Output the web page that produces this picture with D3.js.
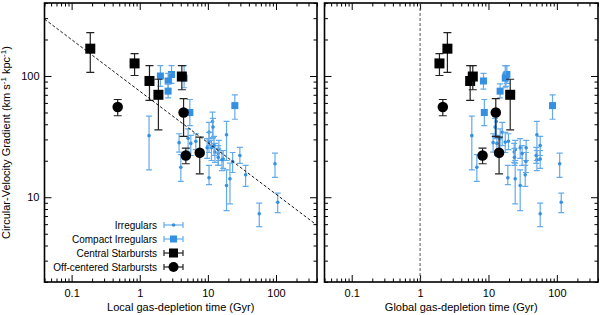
<!DOCTYPE html>
<html>
<head>
<meta charset="utf-8">
<script src="https://cdn.jsdelivr.net/npm/d3@7"></script>
<style>
body { margin: 0; background: #fff; }
svg { display: block; font-family: "Liberation Sans", Arial, Helvetica, sans-serif; }
</style>
</head>
<body>
<div id="chart"></div>
<script>
// Irregulars: gradient (km/s/kpc), error range, local and global depletion times (Gyr)
const irrGrad   = [32.2, 17.7, 14.5, 12.5, 14.2, 15.3, 18.9, 7.3, 9.09, 28.2, 30.7, 27.8, 29.0, 42.2, 32.8, 34.4, 28.5, 25.6, 25.6, 23.6, 22.9, 20.7, 24.7, 20.4, 19.7, 21.4, 22.1, 37.9, 26.7];
const irrHi     = [46.7, 22.5, 18.3, 16.8, 19.1, 18.3, 23.1, 8.96, 10.8, 33.4, 36.7, 32.4, 33.4, 50.4, 42.2, 41.4, 34.3, 30.5, 29.4, 27.8, 26.7, 24.3, 29.4, 24.3, 23.4, 25.3, 25.8, 44.7, 31.8];
const irrLo     = [16.8, 13.5, 12.7, 7.76, 8.82, 12.3, 14.6, 5.72, 7.47, 23.6, 23.6, 22.1, 24.7, 30.4, 20.1, 26.7, 23.4, 20.9, 20.1, 19.4, 18.3, 17.3, 20.1, 16.6, 16.0, 18.3, 19.0, 31.1, 22.1];
const irrLocal  = [1.37, 4.01, 10.4, 18.8, 21.1, 35.8, 96.7, 56.8, 106, 3.78, 5.13, 5.62, 6.66, 11.7, 18.8, 10.4, 10.4, 9.77, 11.3, 12.7, 14.2, 16.8, 14.5, 16.1, 23.1, 14.2, 29.5, 11.9, 12.3];
const irrGlobal = [5.71, 6.76, 19.2, 29.1, 24.6, 34.5, 110, 57.1, 116, 11.7, 14.8, 13.3, 19.6, 13.0, 51.1, 15.9, 17.6, 29.1, 35.6, 23.8, 31.1, 57.1, 24.6, 51.1, 35.3, 24.0, 49.9, 12.5, 57.1];

// Compact irregulars
const ciGrad   = [100, 103, 91, 75, 96, 50, 57];
const ciHi     = [122, 122, 105, 86, 122, 64, 70];
const ciLo     = [82, 87, 78, 66, 80, 39, 44];
const ciLocal  = [2.01, 2.93, 2.61, 2.61, 4.48, 5.44, 24.9];
const ciGlobal = [18.0, 18.6, 8.45, 14.8, 17.6, 8.7, 86.5];

// Central starbursts
const csGrad   = [168, 127, 91, 70, 99];
const csHi     = [228, 153, 122, 94, 122];
const csLo     = [107, 101, 63, 36, 77];
const csLocal  = [0.188, 0.84, 1.39, 1.88, 4.15];
const csGlobal = [2.51, 1.92, 5.4, 20.8, 5.9];

// Off-centered starbursts
const ocGrad   = [55.5, 50, 22.1, 23.3];
const ocHi     = [64, 65, 25.4, 31.3];
const ocLo     = [47, 31.8, 18.9, 15.6];
const ocLocal  = [0.475, 4.4, 4.75, 7.6];
const ocGlobal = [2.15, 12.8, 8.2, 14.3];

// dashed power-law fit in the left panel
const fitNorm = 75;
const fitSlope = -0.425;

const xDomain = [0.04, 400];
const yDomain = [2, 400];

const width = 600, height = 315;
const plotTop = 3, plotBottom = 282;

const blue = "#3490e2";
const blueErr = "#64abeb";

function zip(grad, hi, lo, loc, glob) {
  return grad.map((g, i) => ({ grad: g, hi: hi[i], lo: lo[i], local: loc[i], global: glob[i] }));
}

const groups = [
  { name: "Irregulars", data: zip(irrGrad, irrHi, irrLo, irrLocal, irrGlobal), shape: "circle", size: 3.6, legendSize: 3.6, color: blue, err: blueErr, cap: 6 },
  { name: "Compact Irregulars", data: zip(ciGrad, ciHi, ciLo, ciLocal, ciGlobal), shape: "square", size: 7, legendSize: 7, color: blue, err: blueErr, cap: 6 },
  { name: "Central Starbursts", data: zip(csGrad, csHi, csLo, csLocal, csGlobal), shape: "square", size: 10, legendSize: 9, color: "#000", err: "#222", cap: 8 },
  { name: "Off-centered Starbursts", data: zip(ocGrad, ocHi, ocLo, ocLocal, ocGlobal), shape: "circle", size: 10.5, legendSize: 10, color: "#000", err: "#222", cap: 8 }
];

const svg = d3.select("#chart").append("svg")
  .attr("width", width)
  .attr("height", height);

const y = d3.scaleLog().domain(yDomain).range([plotBottom, plotTop]);

const isMajor = t => Math.abs(Math.log10(t) - Math.round(Math.log10(t))) < 1e-9;

function drawMarker(sel, shape, size, color) {
  if (shape === "square") {
    sel.append("rect")
      .attr("x", -size / 2).attr("y", -size / 2)
      .attr("width", size).attr("height", size)
      .attr("fill", color);
  } else {
    sel.append("circle").attr("r", size / 2).attr("fill", color);
  }
}

function styleAxis(g) {
  g.select(".domain").remove();
  g.selectAll(".tick line").attr("stroke", "#000").attr("stroke-width", 1);
  g.selectAll("text").attr("fill", "#000").style("font-size", "11px")
    .style("font-family", "'Liberation Sans', Arial, Helvetica, sans-serif");
}

function drawPanel(x0, x1, key, title, showYLabels, extra) {
  const x = d3.scaleLog().domain(xDomain).range([x0, x1]);
  const xMajor = x.ticks().filter(isMajor);
  const xMinor = x.ticks().filter(t => !isMajor(t));
  const yMajor = y.ticks().filter(isMajor);
  const yMinor = y.ticks().filter(t => !isMajor(t));

  const panel = svg.append("g");
  const clipId = "clip-" + key;
  svg.append("clipPath").attr("id", clipId)
    .append("rect").attr("x", x0).attr("y", plotTop).attr("width", x1 - x0).attr("height", plotBottom - plotTop);

  // axes, ticks pointing inwards on all four sides
  panel.append("g").attr("transform", "translate(0," + plotBottom + ")")
    .call(d3.axisBottom(x).tickValues(xMinor).tickSize(-3.5).tickFormat(""))
    .call(styleAxis);
  panel.append("g").attr("transform", "translate(0," + plotBottom + ")")
    .call(d3.axisBottom(x).tickValues(xMajor).tickSize(-7).tickPadding(7).tickFormat(d3.format("~g")))
    .call(styleAxis);
  panel.append("g").attr("transform", "translate(0," + plotTop + ")")
    .call(d3.axisTop(x).tickValues(xMinor).tickSize(-3.5).tickFormat(""))
    .call(styleAxis);
  panel.append("g").attr("transform", "translate(0," + plotTop + ")")
    .call(d3.axisTop(x).tickValues(xMajor).tickSize(-7).tickFormat(""))
    .call(styleAxis);
  panel.append("g").attr("transform", "translate(" + x0 + ",0)")
    .call(d3.axisLeft(y).tickValues(yMinor).tickSize(-3.5).tickFormat(""))
    .call(styleAxis);
  panel.append("g").attr("transform", "translate(" + x0 + ",0)")
    .call(d3.axisLeft(y).tickValues(yMajor).tickSize(-7).tickPadding(5)
      .tickFormat(showYLabels ? d3.format("~g") : ""))
    .call(styleAxis);
  panel.append("g").attr("transform", "translate(" + x1 + ",0)")
    .call(d3.axisRight(y).tickValues(yMinor).tickSize(-3.5).tickFormat(""))
    .call(styleAxis);
  panel.append("g").attr("transform", "translate(" + x1 + ",0)")
    .call(d3.axisRight(y).tickValues(yMajor).tickSize(-7).tickFormat(""))
    .call(styleAxis);

  panel.append("rect")
    .attr("x", x0).attr("y", plotTop)
    .attr("width", x1 - x0).attr("height", plotBottom - plotTop)
    .attr("fill", "none").attr("stroke", "#000").attr("stroke-width", 1.6);

  panel.append("text")
    .attr("x", (x0 + x1) / 2).attr("y", 311)
    .attr("text-anchor", "middle")
    .style("font-size", "11px")
    .text(title);

  const plot = panel.append("g").attr("clip-path", "url(#" + clipId + ")");

  extra(plot, x);

  groups.forEach(gr => {
    const pts = plot.append("g").selectAll("g")
      .data(gr.data)
      .join("g");
    pts.append("line")
      .attr("x1", d => x(d[key])).attr("x2", d => x(d[key]))
      .attr("y1", d => y(d.hi)).attr("y2", d => y(d.lo))
      .attr("stroke", gr.err).attr("stroke-width", 1.2);
    ["hi", "lo"].forEach(k => {
      pts.append("line")
        .attr("x1", d => x(d[key]) - gr.cap / 2).attr("x2", d => x(d[key]) + gr.cap / 2)
        .attr("y1", d => y(d[k])).attr("y2", d => y(d[k]))
        .attr("stroke", gr.err).attr("stroke-width", 1.2);
    });
    const m = pts.append("g").attr("transform", d => "translate(" + x(d[key]) + "," + y(d.grad) + ")");
    drawMarker(m, gr.shape, gr.size, gr.color);
  });

  return x;
}

// left panel: local depletion time, with the fit
const left = drawPanel(44.5, 317, "local", "Local gas-depletion time (Gyr)", true, () => {});
svg.append("path")
  .attr("clip-path", "url(#clip-local)")
  .attr("d", d3.line().x(d => left(d)).y(d => y(fitNorm * Math.pow(d, fitSlope)))(xDomain))
  .attr("fill", "none").attr("stroke", "#000").attr("stroke-width", 0.9)
  .attr("stroke-dasharray", "3,2");

// right panel: global depletion time, with the 1 Gyr reference line
drawPanel(324.5, 598, "global", "Global gas-depletion time (Gyr)", false, (plot, x) => {
  plot.append("line")
    .attr("x1", x(1)).attr("x2", x(1))
    .attr("y1", plotTop).attr("y2", plotBottom)
    .attr("stroke", "#555").attr("stroke-width", 1)
    .attr("stroke-dasharray", "3,2");
});

// y axis title
const yTitle = svg.append("text")
  .attr("transform", "translate(10," + ((plotTop + plotBottom) / 2) + ") rotate(-90)")
  .attr("text-anchor", "middle")
  .style("font-size", "11px");
yTitle.append("tspan").text("Circular-Velocity Gradient (km s");
yTitle.append("tspan").attr("dy", -4).style("font-size", "8px").text("-1");
yTitle.append("tspan").attr("dy", 4).text(" kpc");
yTitle.append("tspan").attr("dy", -4).style("font-size", "8px").text("-1");
yTitle.append("tspan").attr("dy", 4).text(")");

// legend
const legend = svg.append("g").attr("transform", "translate(157,225)");
groups.forEach((gr, i) => {
  const row = legend.append("g").attr("transform", "translate(0," + (i * 14) + ")");
  row.append("text")
    .attr("x", 0).attr("y", 4)
    .attr("text-anchor", "end")
    .style("font-size", "10px")
    .text(gr.name);
  row.append("line").attr("x1", 7).attr("x2", 26).attr("y1", 0).attr("y2", 0)
    .attr("stroke", gr.err).attr("stroke-width", 1.2);
  [7, 26].forEach(cx => {
    row.append("line").attr("x1", cx).attr("x2", cx).attr("y1", -3).attr("y2", 3)
      .attr("stroke", gr.err).attr("stroke-width", 1.2);
  });
  const m = row.append("g").attr("transform", "translate(16.5,0)");
  drawMarker(m, gr.shape, gr.legendSize, gr.color);
});
</script>
</body>
</html>
